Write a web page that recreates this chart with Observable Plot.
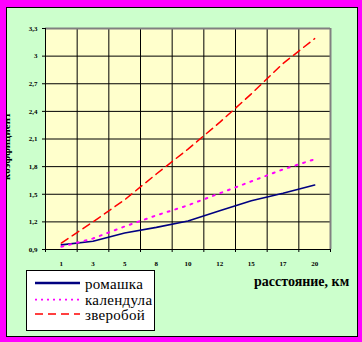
<!DOCTYPE html>
<html><head><meta charset="utf-8">
<script src="https://cdn.jsdelivr.net/npm/d3@7"></script>
<script src="https://cdn.jsdelivr.net/npm/@observablehq/plot@0.6"></script>
<style>
body{margin:0;background:#FF00FF;}
#wrap{position:relative;width:362px;height:342px;background:#FF00FF;overflow:hidden;font-family:"Liberation Serif","Times New Roman",serif;}
#panel{position:absolute;left:6px;top:7px;width:352px;height:330px;box-sizing:border-box;border:1px solid #000;background:#CCFFCC;overflow:hidden;}
#ytitle{position:absolute;left:-7px;top:172px;transform-origin:0 0;transform:rotate(-90deg);font-weight:bold;font-size:11px;line-height:13px;white-space:nowrap;}
#chart{position:absolute;left:0;top:0;}
#chart svg text{font-weight:bold;}
#xtitle{position:absolute;left:254px;top:274px;font-weight:bold;font-size:14px;white-space:nowrap;}
#legend{position:absolute;left:26px;top:270px;}
</style>
</head><body>
<div id="wrap">
  <div id="panel"><div id="ytitle"></div></div>
  <div id="chart"></div>
  <div id="xtitle"></div>
  <div id="legend"></div>
</div>
<script>
const categories = ["1","3","5","8","10","12","15","17","20"];
const romashka  = [0.95, 0.99, 1.08, 1.14, 1.21, 1.32, 1.43, 1.51, 1.60];
const kalendula = [0.93, 1.02, 1.15, 1.27, 1.38, 1.51, 1.64, 1.77, 1.88];
const zveroboy  = [0.97, 1.20, 1.44, 1.72, 1.99, 2.28, 2.59, 2.92, 3.19];
const seriesNames = ["ромашка", "календула", "зверобой"];
const yTicks = [0.9, 1.2, 1.5, 1.8, 2.1, 2.4, 2.7, 3, 3.3];
const xTitle = "расстояние, км";
const yTitle = "коэффициент";

const seriesValues = [romashka, kalendula, zveroboy];
const seriesStyle = [
  {stroke:"#000080", strokeWidth:1.6, dash:null, legendWidth:2.4},
  {stroke:"#FF00FF", strokeWidth:2, dash:"2,6", legendWidth:1.8},
  {stroke:"#FF0000", strokeWidth:1.5, dash:"8,5", legendWidth:1.6}
];
const rows = [];
seriesNames.forEach((s, k) => seriesValues[k].forEach((v, i) => rows.push({series:s, x:i + 0.5, y:v})));

const fmt = d => (+d.toFixed(1)).toString().replace(".", ",");

const lineMarks = seriesNames.map((s, k) => Plot.line(rows.filter(r => r.series === s), {
  x:"x", y:"y", stroke:seriesStyle[k].stroke, strokeWidth:seriesStyle[k].strokeWidth,
  strokeDasharray:seriesStyle[k].dash
}));

const chart = Plot.plot({
  width:362, height:342,
  marginLeft:45, marginRight:32, marginTop:28, marginBottom:93,
  style:{background:"transparent", fontFamily:"'Liberation Serif','Times New Roman',serif", fontSize:"7px", color:"#000"},
  x:{type:"linear", domain:[0, categories.length]},
  y:{domain:[yTicks[0], yTicks[yTicks.length-1]]},
  marks:[
    Plot.frame({fill:"#FFFFCC", stroke:null}),
    Plot.ruleX(d3.range(1, categories.length), {stroke:"#000", strokeWidth:1}),
    Plot.ruleY(yTicks.slice(1, -1), {stroke:"#000", strokeWidth:1}),
    Plot.ruleY([yTicks[yTicks.length-1]], {stroke:"#808080", strokeWidth:2}),
    Plot.ruleX([categories.length], {stroke:"#808080", strokeWidth:2}),
    Plot.ruleX([0], {stroke:"#000"}),
    Plot.ruleY([yTicks[0]], {stroke:"#000"}),
    Plot.axisY({ticks:yTicks, tickSize:3, tickPadding:5, tickFormat:fmt, label:null}),
    Plot.axisX({ticks:d3.range(0, categories.length + 1), tickSize:3, tickFormat:() => "", label:null}),
    Plot.axisX({ticks:categories.map((c, i) => i + 0.5), tickSize:0, tickPadding:12,
      tickFormat:d => categories[Math.floor(d)], label:null}),
    ...lineMarks
  ]
});
document.getElementById("chart").appendChild(chart);

document.getElementById("xtitle").textContent = xTitle;
document.getElementById("ytitle").textContent = yTitle;

// legend
const ns = "http://www.w3.org/2000/svg";
const lg = document.createElementNS(ns, "svg");
lg.setAttribute("width", 130); lg.setAttribute("height", 62);
const rect = document.createElementNS(ns, "rect");
rect.setAttribute("x", 0.5); rect.setAttribute("y", 0.5);
rect.setAttribute("width", 128); rect.setAttribute("height", 60);
rect.setAttribute("fill", "#fff"); rect.setAttribute("stroke", "#000");
lg.appendChild(rect);
const lineY = [13, 29.7, 44];
const textY = [18.7, 34.7, 50.3];
seriesNames.forEach((s, k) => {
  const l = document.createElementNS(ns, "line");
  l.setAttribute("x1", 9); l.setAttribute("x2", 54);
  l.setAttribute("y1", lineY[k]); l.setAttribute("y2", lineY[k]);
  l.setAttribute("stroke", seriesStyle[k].stroke);
  l.setAttribute("stroke-width", seriesStyle[k].legendWidth);
  if (seriesStyle[k].dash) l.setAttribute("stroke-dasharray", k === 1 ? "2,4" : seriesStyle[k].dash);
  lg.appendChild(l);
  const t = document.createElementNS(ns, "text");
  t.setAttribute("x", 59); t.setAttribute("y", textY[k]);
  t.setAttribute("font-size", 15);
  t.setAttribute("letter-spacing", 0.3);
  t.setAttribute("font-family", "'Liberation Serif','Times New Roman',serif");
  t.textContent = s;
  lg.appendChild(t);
});
document.getElementById("legend").appendChild(lg);
</script>
</body></html>
